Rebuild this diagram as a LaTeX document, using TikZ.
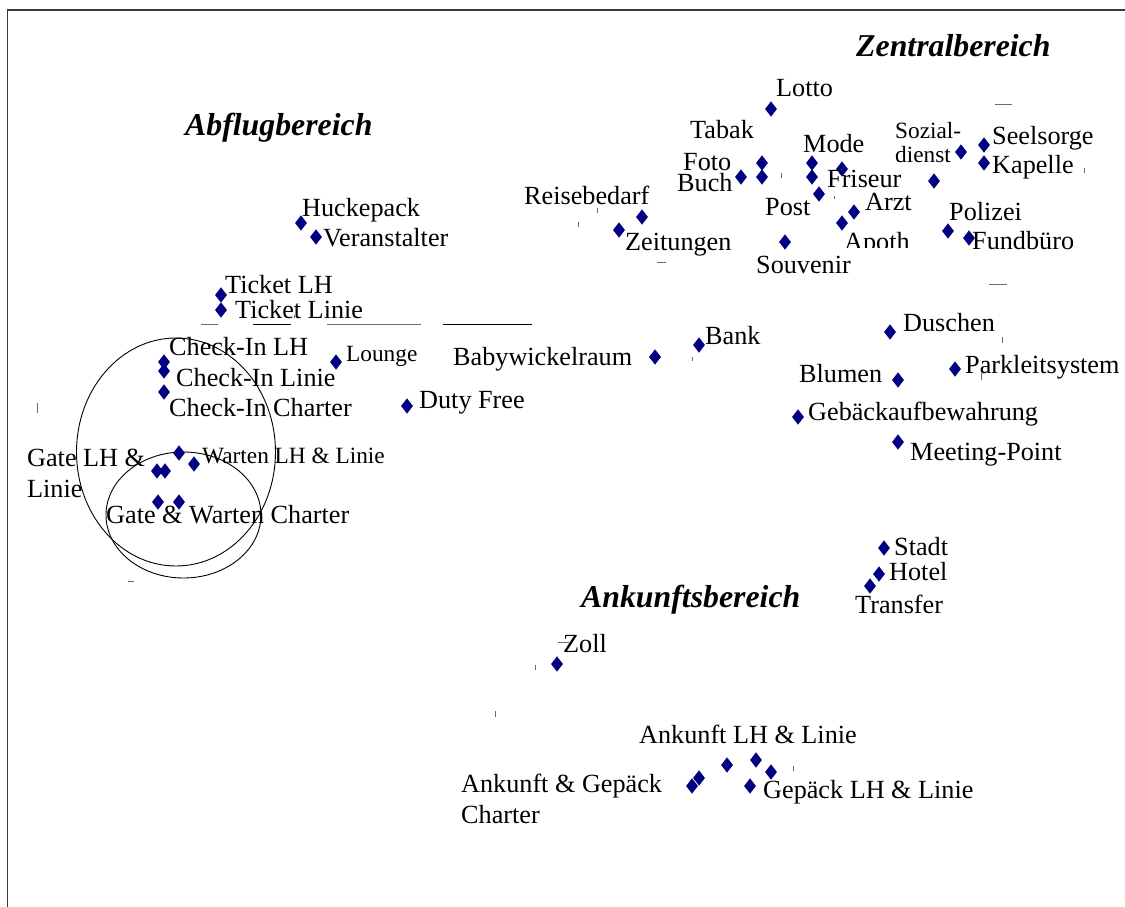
\documentclass[tikz,border=0pt]{standalone}
\usepackage{fontspec}
\setmainfont{Liberation Serif}
\usetikzlibrary{shapes.geometric}
\definecolor{marker}{HTML}{000080}
\definecolor{framegray}{HTML}{3A3A3A}
\definecolor{tickgray}{HTML}{6A6A6A}
\begin{document}
\begin{tikzpicture}[x=1pt,y=-1pt,
  lbl/.style={anchor=base west,inner sep=0pt,font=\fontsize{26.2}{28}\selectfont},
  slbl/.style={anchor=base west,inner sep=0pt,font=\fontsize{23.3}{25}\selectfont},
  area/.style={anchor=base west,inner sep=0pt,font=\fontsize{31.8}{34}\selectfont\bfseries\itshape},
  dia/.style={diamond,fill=marker,draw=none,inner sep=0pt,minimum width=12pt,minimum height=15.5pt},
  tick/.style={draw=tickgray,line width=0.9pt},
  bar/.style={draw=black,line width=1pt}]
\useasboundingbox (0,0) rectangle (1125,907);
\fill[white] (0,0) rectangle (1125,907);

% frame
\draw[framegray,line width=1.4pt] (7.5,907) -- (7.5,10) -- (1125,10);

% group outlines
\draw[line width=0.9pt] (176,452) ellipse [x radius=99.5pt,y radius=114pt];
\draw[line width=0.9pt] (183.5,515) ellipse [x radius=77.5pt,y radius=63pt];

% area titles
\node[area] (zentral) at (856,57) {Zentralbereich};
\node[area] (abflug) at (185,135) {Abflugbereich};
\node[area] (ankunft) at (581,607) {Ankunftsbereich};

% markers
\node[dia] (mLotto) at (771,109) {};
\node[dia] (mTabak) at (762,163) {};
\node[dia] (mFoto) at (762,177) {};
\node[dia] (mBuch) at (741,177) {};
\node[dia] (mModeA) at (812,163) {};
\node[dia] (mModeB) at (812,177) {};
\node[dia] (mFriseur) at (842,169) {};
\node[dia] (mPost) at (819,194) {};
\node[dia] (mArzt) at (854,212) {};
\node[dia] (mApoth) at (842,223) {};
\node[dia] (mSouvenir) at (785,242) {};
\node[dia] (mReise) at (642,217) {};
\node[dia] (mZeitung) at (619,230) {};
\node[dia] (mSozial) at (961,152) {};
\node[dia] (mSozialB) at (934,181) {};
\node[dia] (mSeelsorge) at (984,145) {};
\node[dia] (mKapelle) at (984,163) {};
\node[dia] (mPolizei) at (948,231) {};
\node[dia] (mFund) at (969,238) {};
\node[dia] (mHucke) at (301,223) {};
\node[dia] (mVeran) at (316,237) {};
\node[dia] (mTicketLH) at (221,295) {};
\node[dia] (mTicketLinie) at (221,310) {};
\node[dia] (mCheckLH) at (164,362) {};
\node[dia] (mCheckLinie) at (164,371) {};
\node[dia] (mCheckCharter) at (164,392) {};
\node[dia] (mLounge) at (336,362) {};
\node[dia] (mDuty) at (407,406) {};
\node[dia] (mBaby) at (655,357) {};
\node[dia] (mBank) at (699,345) {};
\node[dia] (mWartenA) at (179,453) {};
\node[dia] (mWartenB) at (194,464) {};
\node[dia] (mGateA) at (157,471) {};
\node[dia] (mGateB) at (165,471) {};
\node[dia] (mChartA) at (158,502) {};
\node[dia] (mChartB) at (179,502) {};
\node[dia] (mDuschen) at (890,332) {};
\node[dia] (mBlumen) at (898,380) {};
\node[dia] (mPark) at (955,369) {};
\node[dia] (mGepAuf) at (798,417) {};
\node[dia] (mMeeting) at (898,442) {};
\node[dia] (mStadt) at (884,548) {};
\node[dia] (mHotel) at (879,574) {};
\node[dia] (mTransfer) at (870,586) {};
\node[dia] (mZoll) at (557,664) {};
\node[dia] (mAnkA) at (727,765) {};
\node[dia] (mAnkB) at (756,760) {};
\node[dia] (mGepA) at (771,772) {};
\node[dia] (mGepB) at (750,786) {};
\node[dia] (mAGA) at (692,786) {};
\node[dia] (mAGB) at (699,778) {};

% labels
\node[lbl] (tLotto) at (776,96) {Lotto};
\node[lbl] (tTabak) at (690,138) {Tabak};
\node[lbl] (tFoto) at (683,170) {Foto};
\node[lbl] (tBuch) at (677,191) {Buch};
\node[lbl] (tMode) at (803,152) {Mode};
\node[lbl] (tFriseur) at (827,187) {Friseur};
\node[lbl] (tPost) at (765,215) {Post};
\node[lbl] (tArzt) at (865,210) {Arzt};
\begin{scope}
  \clip (835,220) rectangle (910,247.5);
  \node[lbl] (tApoth) at (844,250) {Apoth};
\end{scope}
\node[lbl] (tSouvenir) at (756,273) {Souvenir};
\node[lbl] (tReise) at (524,204) {Reisebedarf};
\node[lbl] (tZeitung) at (625,250) {Zeitungen};
\node[slbl] (tSozial) at (895,139) {Sozial-};
\node[slbl] (tDienst) at (895,162) {dienst};
\node[lbl] (tSeelsorge) at (992,144) {Seelsorge};
\node[lbl] (tKapelle) at (992,173) {Kapelle};
\node[lbl] (tPolizei) at (949,220) {Polizei};
\node[lbl] (tFund) at (972,249) {Fundbüro};
\node[lbl] (tHucke) at (302,216) {Huckepack};
\node[lbl] (tVeran) at (323,246) {Veranstalter};
\node[lbl] (tTicketLH) at (225,293) {Ticket LH};
\node[lbl] (tTicketLinie) at (235,318) {Ticket Linie};
\node[lbl] (tCheckLH) at (169,355) {Check-In LH};
\node[lbl] (tCheckLinie) at (176,386) {Check-In Linie};
\node[lbl] (tCheckCharter) at (169,416) {Check-In Charter};
\node[slbl] (tLounge) at (346,361) {Lounge};
\node[slbl] (tWarten) at (202,463) {Warten LH \& Linie};
\node[lbl] (tGate) at (27,466) {Gate LH \&};
\node[lbl] (tGateB) at (27,497) {Linie};
\node[lbl] (tCharter) at (106,523) {Gate \& Warten Charter};
\node[lbl] (tBaby) at (453,365) {Babywickelraum};
\node[lbl] (tBank) at (705,344) {Bank};
\node[lbl] (tDuty) at (419,408) {Duty Free};
\node[lbl] (tDuschen) at (903,331) {Duschen};
\node[lbl] (tPark) at (965,373) {Parkleitsystem};
\node[lbl] (tBlumen) at (799,382) {Blumen};
\node[lbl] (tGepAuf) at (808,420) {Gebäckaufbewahrung};
\node[lbl] (tMeeting) at (910,460) {Meeting-Point};
\node[lbl] (tStadt) at (894,555) {Stadt};
\node[lbl] (tHotel) at (889,580) {Hotel};
\node[lbl] (tTransfer) at (855,613) {Transfer};
\node[lbl] (tZoll) at (563,652) {Zoll};
\node[lbl] (tAnkLH) at (639,743) {Ankunft LH \& Linie};
\node[lbl] (tAG) at (461,792) {Ankunft \& Gepäck};
\node[lbl] (tAGB) at (461,823) {Charter};
\node[lbl] (tGepLH) at (763,798) {Gepäck LH \& Linie};

% short rules under the ticket counters
\draw[tick] (201,324) -- (218,324);
\draw[bar] (253,324) -- (291,324);
\draw[tick] (327,324) -- (421,324);
\draw[bar] (443,324) -- (532,324);

% stray tick marks
\draw[tick] (37.5,403) -- (37.5,413);
\draw[tick] (128,581) -- (134,581);
\draw[tick] (597,208) -- (597,213);
\draw[tick] (578,222) -- (578,227);
\draw[tick] (657,262) -- (666,262);
\draw[tick] (781,173) -- (781,178);
\draw[tick] (834,196) -- (834,199);
\draw[tick] (995,104) -- (1012,104);
\draw[tick] (989,284) -- (1007,284);
\draw[tick] (1084,168) -- (1084,173);
\draw[tick] (692,357) -- (692,361);
\draw[tick] (1002,337) -- (1002,343);
\draw[tick] (981,373) -- (981,380);
\draw[tick] (535,665) -- (535,670);
\draw[tick] (495,711) -- (495,717);
\draw[tick] (793,766) -- (793,771);
\draw[tick] (558,642) -- (569,642);
\draw[tick] (294,315) -- (294,318);
\end{tikzpicture}
\end{document}
